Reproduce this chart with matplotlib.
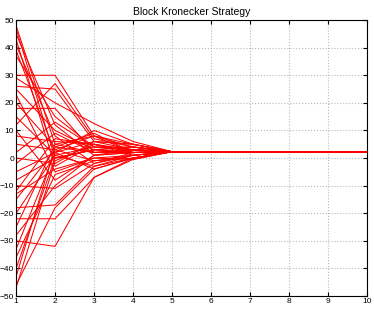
import numpy as np
import matplotlib
matplotlib.use("Agg")
import matplotlib.pyplot as plt

plt.rcParams['font.family'] = ['Liberation Sans', 'DejaVu Sans']

# values of each trajectory at steps 1..4
step1 = [48, 47, 45, 43, 41, 39, 37, 30, 29, 26, 25, 23, 20, 18, 15, 12, 10, 8, 5, 2,
         0, -2, -5, -8, -10, -12, -13, -15, -18, -20, -22, -25, -28, -30, -33, -36, -40, -43, -46, -47]
step2 = [5, 0, 12, -3, 8, 2, 15, 30, 20, 25, 10, -5, 4, 18, 1, 27, -8, 6, 3, 13,
         -2, 9, 2, 0, -11, 7, -4, 3, -17, 1, -22, 5, -10, -32, 2, -6, 0, 4, -18, -1]
step3 = [8, 3, 1, 5, -2, 10, 4, 8, 12.5, 6, 3, 0, 9, 2, -3, 7, 1, 5, -1, 4,
         6, 2, -4, 3, -2, 5, 0, 8, -3, 4, -7, 2, 1, -7, 6, -1, 3, 2, -4, 5]
step4 = [4, 2, 3, 1, 2, 5, 3, 5, 6, 3, 4, 1, 2, 3, 1, 4, 2, 2, 0, 3,
         5, 2, 0, 4, 1, 3, -0.5, 2, 0, 4, 0, 3, 2, -0.5, 5, 1, 2, 3, 0, 2]
consensus = 2.3          # value every trajectory settles on from step 5
steps = [1, 2, 3, 4, 5, 6, 7, 8, 9, 10]

fig = plt.figure(figsize=(3.74, 3.09), dpi=100)
ax = fig.add_axes([0.043, 0.042, 0.938, 0.893])

for a, b, c, d in zip(step1, step2, step3, step4):
    y = [a, b, c, d] + [consensus] * 6
    ax.plot(steps, y, color='#ff0000', lw=0.75)

ax.set_xlim(1, 10)
ax.set_ylim(-50, 50)
ax.set_xticks(range(1, 11))
ax.set_yticks(range(-50, 51, 10))
ax.tick_params(direction='in', labelsize=6, length=3, pad=1.5, top=True, right=True)
ax.grid(True, linestyle=':', color='#b8b8b8', lw=0.8)
ax.set_title('Block Kronecker Strategy', fontsize=7.5, pad=4)
for s in ax.spines.values():
    s.set_linewidth(0.8)

fig.savefig('out.png', dpi=100)
